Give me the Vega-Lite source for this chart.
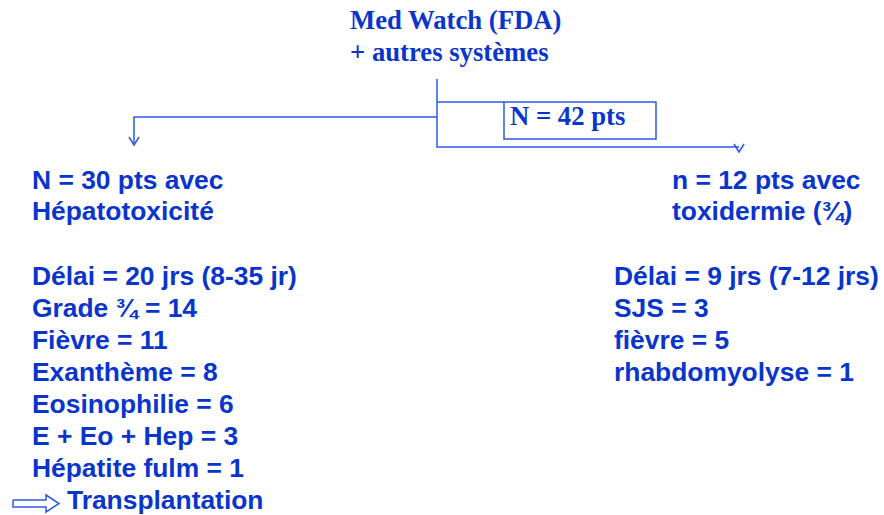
{
  "$schema": "https://vega.github.io/schema/vega-lite/v6.json",
  "width": 884,
  "height": 515,
  "autosize": {"type": "none"},
  "padding": 0,
  "background": "white",
  "config": {"view": {"stroke": null}},
  "datasets": {
    "texts": [
      {"label": "Med Watch (FDA)", "x": 350, "y": 29, "kind": "serif"},
      {"label": "+ autres systèmes", "x": 350, "y": 61, "kind": "serif"},
      {"label": "N = 42 pts", "x": 510, "y": 125, "kind": "serif"},
      {"label": "N = 30 pts avec", "x": 32, "y": 189, "kind": "sans"},
      {"label": "Hépatotoxicité", "x": 32, "y": 220, "kind": "sans"},
      {"label": "Délai = 20 jrs (8-35 jr)", "x": 32, "y": 285, "kind": "sans"},
      {"label": "Grade ¾ = 14", "x": 32, "y": 317, "kind": "sans"},
      {"label": "Fièvre = 11", "x": 32, "y": 349, "kind": "sans"},
      {"label": "Exanthème = 8", "x": 32, "y": 381, "kind": "sans"},
      {"label": "Eosinophilie = 6", "x": 32, "y": 413, "kind": "sans"},
      {"label": "E + Eo + Hep = 3", "x": 32, "y": 445, "kind": "sans"},
      {"label": "Hépatite fulm = 1", "x": 32, "y": 477, "kind": "sans"},
      {"label": "Transplantation", "x": 67, "y": 509, "kind": "sans"},
      {"label": "n = 12 pts avec", "x": 672, "y": 189, "kind": "sans"},
      {"label": "toxidermie (¾)", "x": 672, "y": 220, "kind": "sans"},
      {"label": "Délai = 9 jrs (7-12 jrs)", "x": 614, "y": 285, "kind": "sans"},
      {"label": "SJS = 3", "x": 614, "y": 317, "kind": "sans"},
      {"label": "fièvre = 5", "x": 614, "y": 349, "kind": "sans"},
      {"label": "rhabdomyolyse = 1", "x": 614, "y": 381, "kind": "sans"}
    ],
    "paths": [
      {"g": "trunk", "o": 1, "x": 437, "y": 79},
      {"g": "trunk", "o": 2, "x": 437, "y": 147},
      {"g": "trunk", "o": 3, "x": 739, "y": 147},
      {"g": "boxlink", "o": 1, "x": 437, "y": 102},
      {"g": "boxlink", "o": 2, "x": 504, "y": 102},
      {"g": "left", "o": 1, "x": 437, "y": 117},
      {"g": "left", "o": 2, "x": 134, "y": 117},
      {"g": "left", "o": 3, "x": 134, "y": 145},
      {"g": "headL", "o": 1, "x": 129, "y": 137},
      {"g": "headL", "o": 2, "x": 134, "y": 145},
      {"g": "headL", "o": 3, "x": 139, "y": 137},
      {"g": "headR", "o": 1, "x": 734, "y": 144},
      {"g": "headR", "o": 2, "x": 739, "y": 152},
      {"g": "headR", "o": 3, "x": 744, "y": 144},
      {"g": "hollow", "o": 1, "x": 13, "y": 500},
      {"g": "hollow", "o": 2, "x": 46, "y": 500},
      {"g": "hollow", "o": 3, "x": 46, "y": 495},
      {"g": "hollow", "o": 4, "x": 59, "y": 503.5},
      {"g": "hollow", "o": 5, "x": 46, "y": 512},
      {"g": "hollow", "o": 6, "x": 46, "y": 507},
      {"g": "hollow", "o": 7, "x": 13, "y": 507},
      {"g": "hollow", "o": 8, "x": 13, "y": 500}
    ],
    "boxes": [
      {"x": 504, "x2": 656, "y": 102, "y2": 139}
    ]
  },
  "layer": [
    {
      "data": {"name": "boxes"},
      "mark": {"type": "rect", "fill": null, "stroke": "#2e58e6", "strokeWidth": 1.5},
      "encoding": {
        "x": {"field": "x", "type": "quantitative", "scale": {"domain": [0, 884], "range": [0, 884]}, "axis": null},
        "x2": {"field": "x2"},
        "y": {"field": "y", "type": "quantitative", "scale": {"domain": [0, 515], "range": [0, 515]}, "axis": null},
        "y2": {"field": "y2"}
      }
    },
    {
      "data": {"name": "paths"},
      "mark": {"type": "line", "stroke": "#2e58e6", "strokeWidth": 1.5, "strokeJoin": "miter"},
      "encoding": {
        "x": {"field": "x", "type": "quantitative", "scale": {"domain": [0, 884], "range": [0, 884]}, "axis": null},
        "y": {"field": "y", "type": "quantitative", "scale": {"domain": [0, 515], "range": [0, 515]}, "axis": null},
        "detail": {"field": "g"},
        "order": {"field": "o"}
      }
    },
    {
      "data": {"name": "texts"},
      "transform": [{"filter": "datum.kind === 'serif'"}],
      "mark": {"type": "text", "align": "left", "baseline": "alphabetic", "font": "Liberation Serif", "fontWeight": "bold", "fontSize": 26.7, "fill": "#0a35cc"},
      "encoding": {
        "x": {"field": "x", "type": "quantitative", "scale": {"domain": [0, 884], "range": [0, 884]}, "axis": null},
        "y": {"field": "y", "type": "quantitative", "scale": {"domain": [0, 515], "range": [0, 515]}, "axis": null},
        "text": {"field": "label"}
      }
    },
    {
      "data": {"name": "texts"},
      "transform": [{"filter": "datum.kind === 'sans'"}],
      "mark": {"type": "text", "align": "left", "baseline": "alphabetic", "font": "Liberation Sans", "fontWeight": "bold", "fontSize": 26.4, "fill": "#0a35cc"},
      "encoding": {
        "x": {"field": "x", "type": "quantitative", "scale": {"domain": [0, 884], "range": [0, 884]}, "axis": null},
        "y": {"field": "y", "type": "quantitative", "scale": {"domain": [0, 515], "range": [0, 515]}, "axis": null},
        "text": {"field": "label"}
      }
    }
  ]
}
